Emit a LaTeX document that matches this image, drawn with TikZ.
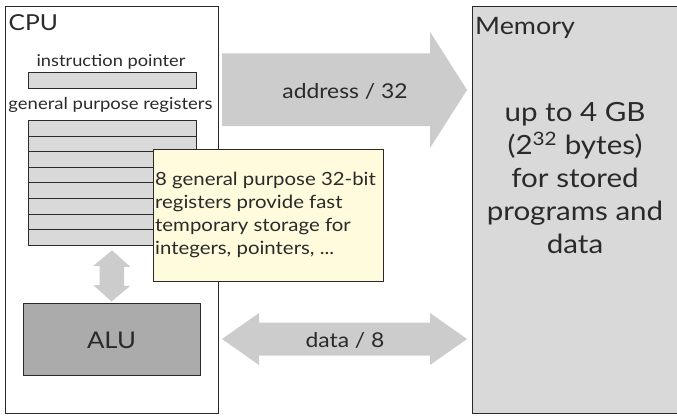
\documentclass[tikz,border=0pt]{standalone}
\usepackage{fontspec}
\setmainfont{Lato}[FakeStretch=1.12]
\usetikzlibrary{positioning, calc}
\definecolor{regfill}{HTML}{D9D9D9}
\definecolor{alufill}{HTML}{ABABAB}
\definecolor{busfill}{HTML}{CCCCCC}
\definecolor{notefill}{HTML}{FFFBDC}
\definecolor{ink}{HTML}{2A2A2A}

\begin{document}
\begin{tikzpicture}[x=1pt, y=-1pt,
  box/.style={draw=ink, line width=1pt},
  reg/.style={box, fill=regfill, minimum width=168, minimum height=15.6, inner sep=0pt},
  bus/.style={fill=busfill, draw=none},
  txt/.style={text=ink, inner sep=0pt}]
\useasboundingbox (0,0) rectangle (677,415);

% outer boxes
\node[box, fill=white, anchor=north west, minimum width=213, minimum height=407] (cpu) at (5,5.5) {};
\begin{scope}
  \clip (0,0) rectangle (677,415);
  \node[box, fill=regfill, anchor=north west, minimum width=215, minimum height=407] (mem) at (471.5,5.5) {};
\end{scope}
\node[txt, anchor=base west, font=\fontsize{22}{26}\selectfont] (cputitle) at (8.5,30.7) {CPU};
\node[txt, anchor=base west, font=\fontsize{24}{28}\selectfont] (memtitle) at (475,34) {Memory};

% registers
\node[txt, anchor=base, font=\fontsize{16.3}{18}\selectfont] (iplabel) at (111,66.5) {instruction pointer};
\node[reg] (ip) at (112,80.5) {};
\node[txt, anchor=base, font=\fontsize{16.5}{18}\selectfont] (gplabel) at (110.5,109.5) {general purpose registers};
\foreach \i in {0,...,7}
  \node[reg] (reg\i) at (112,128.3+15.6*\i) {};

% alu
\node[box, fill=alufill, minimum width=177, minimum height=72] (alu) at (111.5,339) {};
\node[txt, anchor=base, font=\fontsize{23}{26}\selectfont] (alutext) at (111.5,348) {ALU};

% bus between registers and alu
\fill[bus] ($(reg7.south)+(0,4.5)$) -- ++(18.3,16.5) -- ++(-6.3,0) -- ++(0,19) -- ++(6.3,0)
  -- ($(alu.north)+(0,-1)$) -- ++(-18.3,-16.5) -- ++(6.3,0) -- ++(0,-19) -- ++(-6.3,0) -- cycle;

% address bus
\fill[bus] (222,53.3) -- (430,53.3) -- (430,31.7) -- (467,90)
  -- (430,148) -- (430,126) -- (222,126) -- cycle;
\node[txt, anchor=base, font=\fontsize{20.4}{24}\selectfont] (addr) at (345,98.3) {address / 32};

% data bus
\fill[bus] (222,339) -- (259,313) -- (259,322.5) -- (430,322.5) -- (430,313) -- (467,339)
  -- (430,365) -- (430,355.5) -- (259,355.5) -- (259,365) -- cycle;
\node[txt, anchor=base, font=\fontsize{20.4}{24}\selectfont] (data) at (345,347) {data / 8};

% memory text
\foreach \t [count=\k from 0] in {up to 4 GB, (2\textsuperscript{32} bytes), for stored, programs and, data}
  \node[txt, anchor=base, font=\fontsize{26.4}{30}\selectfont] (mem\k) at (575,121.5+32.9*\k) {\t};

% note
\node[box, fill=notefill, anchor=north west, minimum width=230, minimum height=132] (note) at (153,149.3) {};
\foreach \t [count=\k from 0] in {8 general purpose 32-bit, registers provide fast, temporary storage for, {integers, pointers, .{}.{}.}}
  \node[txt, anchor=base west, font=\fontsize{18.2}{22}\selectfont] (note\k) at (155,185+23.3*\k) {\t};
\end{tikzpicture}
\end{document}
